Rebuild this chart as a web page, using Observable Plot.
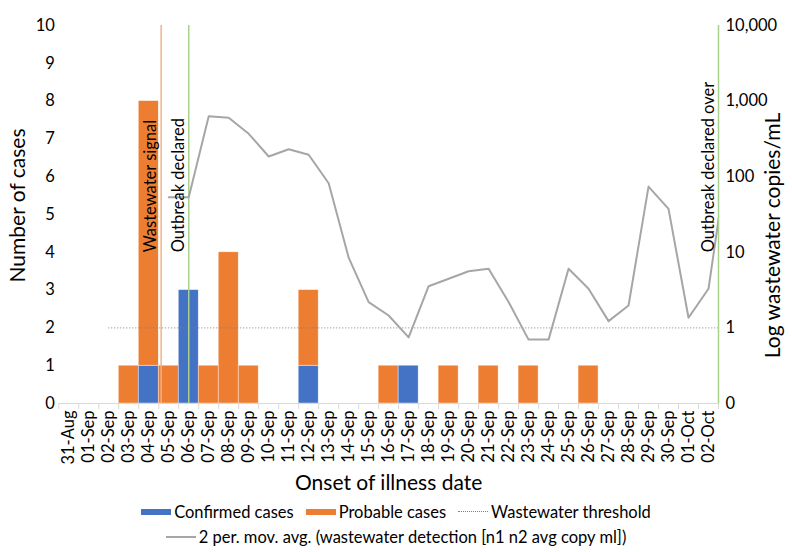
<!DOCTYPE html>
<html>
<head>
<meta charset="utf-8">
<script src="https://cdn.jsdelivr.net/npm/d3@7"></script>
<script src="https://cdn.jsdelivr.net/npm/@observablehq/plot@0.6"></script>
<style>
  body { margin: 0; background: #fff; font-family: Lato, "Noto Sans", sans-serif; }
  #chart { width: 792px; }
  #legend { width: 792px; font-size: 16.5px; color: #000; padding-top: 3px; }
  .row { display: flex; justify-content: center; align-items: center; height: 25px; }
  .item { display: flex; align-items: center; margin: 0 6px; }
  .sw { display: inline-block; width: 30px; margin-right: 3px; }
</style>
</head>
<body>
<div id="chart"></div>
<div id="legend"></div>
<script>
// ---- data ----
const dates = ["31-Aug","01-Sep","02-Sep","03-Sep","04-Sep","05-Sep","06-Sep","07-Sep","08-Sep","09-Sep","10-Sep","11-Sep","12-Sep","13-Sep","14-Sep","15-Sep","16-Sep","17-Sep","18-Sep","19-Sep","20-Sep","21-Sep","22-Sep","23-Sep","24-Sep","25-Sep","26-Sep","27-Sep","28-Sep","29-Sep","30-Sep","01-Oct","02-Oct"];
const confirmed = [0,0,0,0,1,0,3,0,0,0,0,0,1,0,0,0,0,1,0,0,0,0,0,0,0,0,0,0,0,0,0,0,0];
const probable  = [0,0,0,1,7,1,0,1,4,1,0,0,2,0,0,0,1,0,0,1,0,1,0,1,0,0,1,0,0,0,0,0,0];
// 2-period moving average of wastewater detection (copies/mL), starting 05-Sep (last value is 03-Oct, beyond the axis)
const wwStart = "05-Sep";
const wwValues = [53.6,53.6,631,601,369,185,231,195,82,8.5,2.19,1.46,0.75,3.56,4.46,5.62,6.05,2.2,0.70,0.70,6.05,3.29,1.23,1.98,74,37.6,1.36,3.29,220];
const threshold = 1;
const thresholdFrom = "02-Sep";
// event markers: day offsets from 31-Aug
const eventLabels = ["Wastewater signal","Outbreak declared","Outbreak declared over"];
const eventDay = [4.62, 6, 32.5];
const eventColors = ["#F4B183","#A9D18E","#A9D18E"];
const rightTicks = [0.1, 1, 10, 100, 1000, 10000];
const seriesNames = ["Confirmed cases","Probable cases"];
const seriesColors = ["#4472C4","#ED7D31"];
const lineColor = "#A6A6A6";
const thresholdColor = "#7F7F7F";

// ---- derived ----
const ty = v => (Math.log10(v) + 1) * 2;   // log axis [0.1, 10000] -> [0, 10]
const fromTy = t => Math.pow(10, t / 2 - 1);
const rects = [];
dates.forEach((d, i) => {
  rects.push({i, type: seriesNames[0], y1: 0, y2: confirmed[i]});
  rects.push({i, type: seriesNames[1], y1: confirmed[i], y2: confirmed[i] + probable[i]});
});
const bars = rects.filter(r => r.y2 > r.y1);
const s0 = dates.indexOf(wwStart);
const ww = wwValues.map((v, k) => ({i: s0 + k, v}));
const events = eventLabels.map((label, k) => ({label, x: eventDay[k], color: eventColors[k]}));
const n = dates.length;
const fmt = d3.format(",");

const chart = Plot.plot({
  width: 792,
  height: 496,
  marginLeft: 58.3,
  marginRight: 74,
  marginTop: 25,
  marginBottom: 93,
  style: {fontFamily: "Lato, 'Noto Sans', sans-serif", fontSize: "16px", color: "#000", background: "#fff"},
  x: {domain: [-0.5, n - 0.5]},
  y: {domain: [0, 10]},
  color: {domain: seriesNames, range: seriesColors},
  marks: [
    Plot.rect(bars, {x1: d => d.i - 0.5, x2: d => d.i + 0.5, y1: "y1", y2: "y2", fill: "type", stroke: "#fff", strokeWidth: 0.6, strokeOpacity: 0.7}),
    Plot.ruleY([threshold], {y: v => ty(v), x1: dates.indexOf(thresholdFrom), x2: n - 0.5, stroke: thresholdColor, strokeWidth: 1, strokeDasharray: "1,2"}),
    Plot.ruleX(events, {x: "x", stroke: "color", strokeWidth: 1.5}),
    Plot.lineY(ww, {x: "i", y: d => ty(d.v), stroke: lineColor, strokeWidth: 2, clip: true}),
    Plot.text(events, {x: "x", y: 4, text: "label", rotate: -90, textAnchor: "start", dx: -10, fontSize: 16.5, fill: "#000"}),
    Plot.ruleY([0], {stroke: "#D9D9D9", strokeWidth: 1}),
    Plot.axisX({ticks: d3.range(n + 1).map(i => i - 0.5), tickFormat: () => "", tickSize: 6, stroke: "#D9D9D9", label: null}),
    Plot.axisX({ticks: d3.range(n), tickFormat: i => dates[i], tickRotate: -90, tickSize: 0, tickPadding: 7, fontSize: 16.5, label: null}),
    Plot.axisY({ticks: d3.range(0, 11), tickSize: 0, tickPadding: 4, fontSize: 16.5, label: null}),
    Plot.axisY({anchor: "right", ticks: rightTicks.map(ty), tickFormat: t => fmt(Math.round(fromTy(t))), tickSize: 0, tickPadding: 7, fontSize: 16.5, label: null}),
    Plot.text(["Number of cases"], {frameAnchor: "left", textAnchor: "middle", dx: -41, dy: -9, rotate: -90, fontSize: 21, fill: "#000"}),
    Plot.text(["Log wastewater copies/mL"], {frameAnchor: "right", textAnchor: "middle", dx: 55, dy: 21, rotate: -90, fontSize: 21, fill: "#000"}),
    Plot.text(["Onset of illness date"], {frameAnchor: "bottom", lineAnchor: "middle", dy: 80, fontSize: 21, fill: "#000"})
  ]
});
document.getElementById("chart").appendChild(chart);

// ---- legend ----
const legend = document.getElementById("legend");
const row1 = document.createElement("div"); row1.className = "row";
const row2 = document.createElement("div"); row2.className = "row";
function item(row, label, css) {
  const it = document.createElement("span"); it.className = "item";
  const sw = document.createElement("span"); sw.className = "sw"; sw.style.cssText = css;
  const tx = document.createElement("span"); tx.textContent = label;
  it.appendChild(sw); it.appendChild(tx); row.appendChild(it);
}
item(row1, seriesNames[0], `height:6px;background:${seriesColors[0]}`);
item(row1, seriesNames[1], `height:6px;background:${seriesColors[1]}`);
item(row1, "Wastewater threshold", `height:0;border-top:1px dotted ${thresholdColor}`);
item(row2, "2 per. mov. avg. (wastewater detection [n1 n2 avg copy ml])", `height:2px;background:${lineColor}`);
legend.appendChild(row1); legend.appendChild(row2);
</script>
</body>
</html>
